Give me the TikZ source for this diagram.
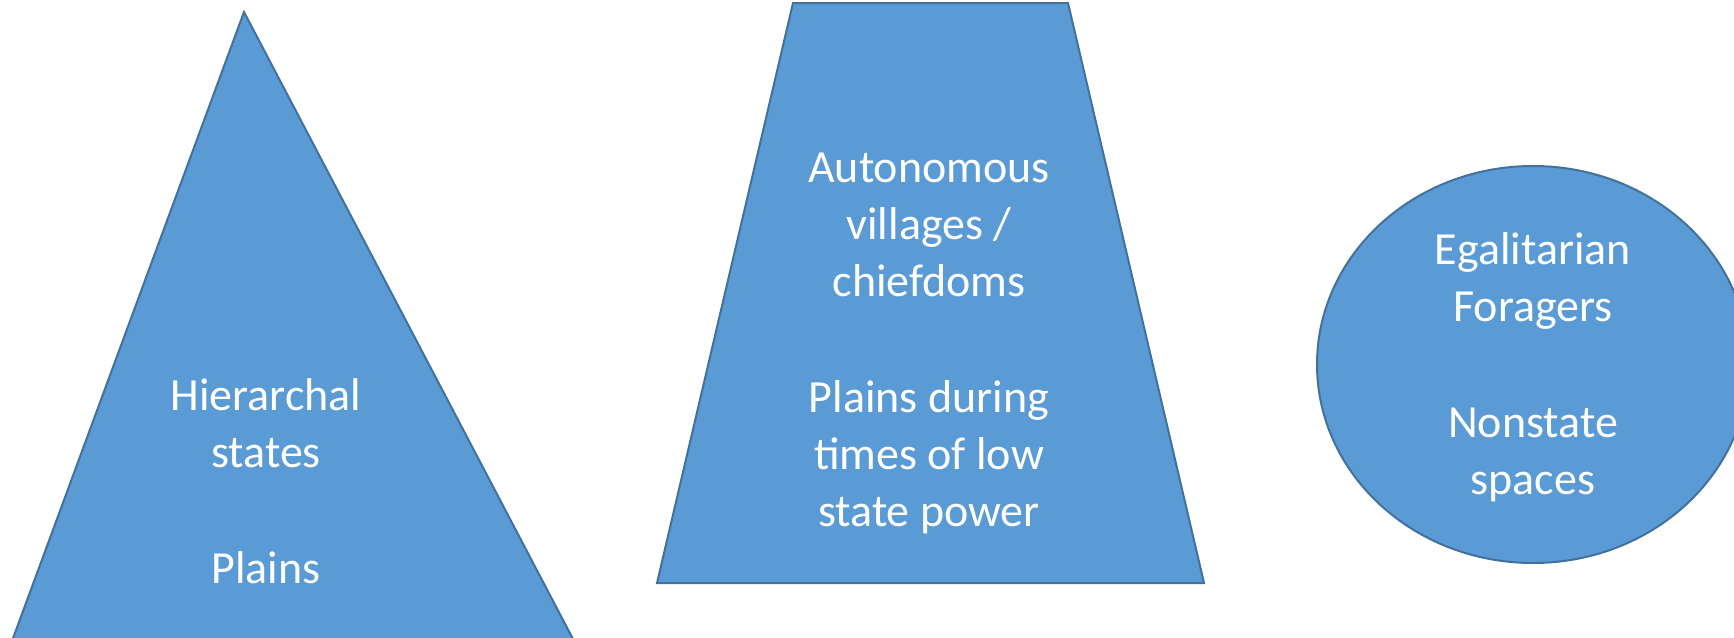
\documentclass[tikz,border=0pt]{standalone}
\usepackage{fontspec}
\usepackage{tikz}
\newfontfamily\carlito{Carlito}
\definecolor{officeblue}{HTML}{5B9BD5}
\definecolor{officeedge}{HTML}{41719C}
\tikzset{
  block/.style = {
    fill = officeblue,
    draw = officeedge,
    line width = 2pt,
    line join = miter
  },
  label/.style = {
    text = white,
    align = center,
    inner sep = 0pt,
    font = \carlito\fontsize{46}{57}\selectfont
  },
}

\begin{document}
\begin{tikzpicture}[x = 1pt, y = -1pt]
  \useasboundingbox (0,0) rectangle (1734,637);
  % pyramid
  \draw[block] (244,12) -- (584,660) -- (5,660) -- cycle;
  % trapezoid
  \draw[block] (793,3) -- (1068,3) -- (1204,583) -- (657,583) -- cycle;
  % ellipse
  \draw[block] (1533,364.5) ellipse [x radius = 216, y radius = 198.5];
  \node[label] (hier) at (266,481.5) {Hierarchal\\states\\[59pt]Plains};
  \node[label] (auto) at (929,343.5)
    {Autonomous\\villages /\\chiefdoms\\[59pt]Plains during\\times of low\\state power};
  \node[label] (egal) at (1533,367.5) {Egalitarian\\Foragers\\[59pt]Nonstate\\spaces};
\end{tikzpicture}
\end{document}
